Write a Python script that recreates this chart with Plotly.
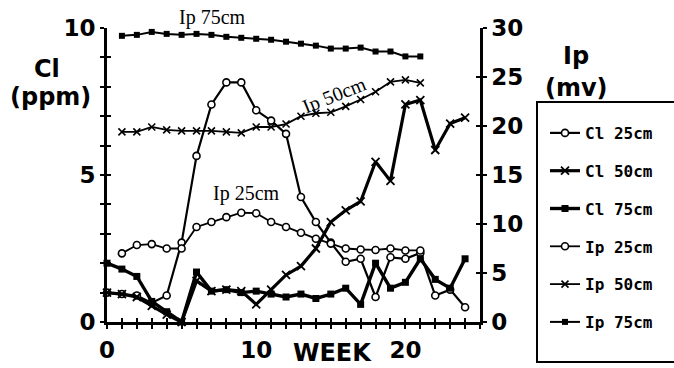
import plotly.graph_objects as go

# ---------------- data ----------------
weeks_cl = list(range(0, 25))
cl_25 = [1.0, 0.95, 0.9, 0.65, 0.9, 2.7, 5.65, 7.4, 8.15, 8.15, 7.2, 6.85, 6.4,
         4.25, 3.4, 2.7, 2.05, 2.15, 0.85, 2.2, 2.15, 2.35, 0.9, 1.1, 0.5]
cl_50 = [1.0, 0.95, 0.85, 0.55, 0.25, 0.0, 1.4, 1.05, 1.1, 1.05, 0.6, 1.1, 1.6,
         1.9, 2.5, 3.4, 3.8, 4.1, 5.45, 4.8, 7.4, 7.55, 5.85, 6.75, 6.95]
cl_75 = [2.0, 1.8, 1.55, 0.7, 0.35, 0.0, 1.7, 1.05, 1.1, 1.0, 1.05, 0.95, 0.85,
         0.95, 0.8, 0.95, 1.15, 0.6, 2.0, 1.15, 1.35, 2.15, 1.45, 1.15, 2.15]

weeks_ip = list(range(1, 22))
ip_25 = [7.0, 7.85, 7.95, 7.5, 7.5, 9.7, 10.2, 10.7, 11.15, 11.1, 10.2, 9.7,
         9.1, 8.5, 8.0, 7.5, 7.4, 7.35, 7.5, 7.3, 7.3]
ip_50 = [19.4, 19.4, 19.9, 19.6, 19.5, 19.5, 19.5, 19.4, 19.3, 19.9, 19.9, 20.2,
         21.0, 21.3, 21.4, 22.0, 22.7, 23.5, 24.5, 24.7, 24.4]
ip_75 = [29.2, 29.3, 29.6, 29.4, 29.3, 29.4, 29.3, 29.1, 29.0, 28.9, 28.8, 28.6,
         28.4, 28.2, 27.9, 27.9, 28.0, 27.6, 27.6, 27.1, 27.1]

cl_ticks = list(range(0, 11))
cl_ticktext = ["0", "", "", "", "", "5", "", "", "", "", "10"]
ip_ticks = [0, 5, 10, 15, 20, 25, 30]
week_ticks = list(range(0, 26))
week_ticktext = [str(w) if w in (0, 10, 20) else "" for w in week_ticks]

# ---------------- geometry helpers ----------------
W, H = 674, 368
L, R, T, B = 107, 194, 28, 46
PW, PH = W - L - R, H - T - B


def px(x):
    return (x - L) / PW


def py(y):
    return (H - B - y) / PH


BLACK = "black"
fig = go.Figure()

fig.add_trace(go.Scatter(
    x=weeks_cl, y=cl_25, name="Cl 25cm", legendgroup="a",
    mode="lines+markers", line=dict(color=BLACK, width=2.2),
    marker=dict(symbol="circle", size=7, color="white",
                line=dict(color=BLACK, width=1.6)),
    cliponaxis=False))
fig.add_trace(go.Scatter(
    x=weeks_cl, y=cl_50, name="Cl 50cm", legendgroup="b",
    mode="lines+markers", line=dict(color=BLACK, width=3.2),
    marker=dict(symbol="x-thin-open", size=8, color=BLACK,
                line=dict(color=BLACK, width=1.8)),
    cliponaxis=False))
fig.add_trace(go.Scatter(
    x=weeks_cl, y=cl_75, name="Cl 75cm", legendgroup="c",
    mode="lines+markers", line=dict(color=BLACK, width=3.4),
    marker=dict(symbol="square", size=7, color=BLACK),
    cliponaxis=False))
fig.add_trace(go.Scatter(
    x=weeks_ip, y=ip_25, name="Ip 25cm", legendgroup="d", yaxis="y2",
    mode="lines+markers", line=dict(color=BLACK, width=1.8),
    marker=dict(symbol="circle", size=7, color="white",
                line=dict(color=BLACK, width=1.6)),
    cliponaxis=False))
fig.add_trace(go.Scatter(
    x=weeks_ip, y=ip_50, name="Ip 50cm", legendgroup="e", yaxis="y2",
    mode="lines+markers", line=dict(color=BLACK, width=1.8),
    marker=dict(symbol="x-thin-open", size=7, color=BLACK,
                line=dict(color=BLACK, width=1.6)),
    cliponaxis=False))
fig.add_trace(go.Scatter(
    x=weeks_ip, y=ip_75, name="Ip 75cm", legendgroup="f", yaxis="y2",
    mode="lines+markers", line=dict(color=BLACK, width=2.0),
    marker=dict(symbol="square", size=6, color=BLACK),
    cliponaxis=False))

tickfont = dict(family="DejaVu Sans", size=23, color=BLACK, weight="bold")

fig.update_layout(
    width=W, height=H,
    margin=dict(l=L, r=R, t=T, b=B, pad=0, autoexpand=False),
    paper_bgcolor="white", plot_bgcolor="white",
    showlegend=True,
    legend=dict(x=px(545), y=py(116), xanchor="left", yanchor="top",
                traceorder="grouped", tracegroupgap=14,
                font=dict(family="DejaVu Sans Mono", size=16, color=BLACK,
                          weight="bold"),
                bgcolor="rgba(0,0,0,0)", borderwidth=0, itemwidth=30),
    xaxis=dict(range=[0, 25], showgrid=False, zeroline=False, automargin=False,
               showline=True, linecolor=BLACK, linewidth=3,
               tickmode="array", tickvals=week_ticks, ticktext=week_ticktext,
               ticks="outside", ticklen=4, tickwidth=2, tickcolor=BLACK,
               tickfont=tickfont, ticklabelstandoff=1),
    xaxis2=dict(range=[0, 25], overlaying="x", anchor="y", showgrid=False,
                zeroline=False, showline=False, tickmode="array",
                automargin=False,
                tickvals=week_ticks, ticks="inside", ticklen=4, tickwidth=2,
                tickcolor=BLACK, showticklabels=False),
    yaxis=dict(range=[0, 10], showgrid=False, zeroline=False, automargin=False,
               showline=True, linecolor=BLACK, linewidth=3,
               tickmode="array", tickvals=cl_ticks, ticktext=cl_ticktext,
               ticks="outside", ticklen=4, tickwidth=2, tickcolor=BLACK,
               tickfont=tickfont),
    yaxis3=dict(range=[0, 10], overlaying="y", anchor="x", side="left",
                showgrid=False, zeroline=False, showline=False,
                automargin=False,
                tickmode="array", tickvals=cl_ticks, ticks="inside",
                ticklen=4, tickwidth=2, tickcolor=BLACK, showticklabels=False),
    yaxis2=dict(range=[0, 30], overlaying="y", side="right", anchor="x",
                showgrid=False, zeroline=False, showline=True,
                automargin=False,
                linecolor=BLACK, linewidth=2.5, tickmode="array",
                tickvals=ip_ticks, ticks="outside", ticklen=4, tickwidth=2,
                tickcolor=BLACK, tickfont=tickfont),
    yaxis4=dict(range=[0, 30], overlaying="y", side="right", anchor="x",
                showgrid=False, zeroline=False, showline=False,
                automargin=False,
                tickmode="array", tickvals=ip_ticks, ticks="inside",
                ticklen=4, tickwidth=2, tickcolor=BLACK,
                showticklabels=False),
)

# invisible helper traces so the overlay tick axes are rendered
fig.add_trace(go.Scatter(x=[0], y=[0], xaxis="x2", yaxis="y3",
                         mode="markers", marker=dict(opacity=0),
                         showlegend=False, hoverinfo="skip"))
fig.add_trace(go.Scatter(x=[0], y=[0], xaxis="x", yaxis="y4",
                         mode="markers", marker=dict(opacity=0),
                         showlegend=False, hoverinfo="skip"))

labfont = dict(family="DejaVu Sans", size=24, color=BLACK, weight="bold")
serif = dict(family="Liberation Serif", size=20, color=BLACK)

annots = [
    ("Cl", 47, 69, labfont, 0),
    ("(ppm)", 50, 97, labfont, 0),
    ("Ip", 576, 56, labfont, 0),
    ("(mv)", 576, 88, labfont, 0),
    ("WEEK", 332, 353, labfont, 0),
    ("Ip 75cm", 212, 18, serif, 0),
    ("Ip 50cm", 334, 95, serif, -22),
    ("Ip 25cm", 246, 193, serif, 0),
]
for text, x, y, f, ang in annots:
    fig.add_annotation(text=text, x=px(x), y=py(y), xref="paper", yref="paper",
                       xanchor="center", yanchor="middle", showarrow=False,
                       font=f, textangle=ang)

# legend frame
fig.add_shape(type="rect", xref="paper", yref="paper",
              x0=px(537), x1=px(700), y0=py(362), y1=py(102),
              line=dict(color=BLACK, width=2), fillcolor="rgba(0,0,0,0)")

fig.write_html("out.html")
